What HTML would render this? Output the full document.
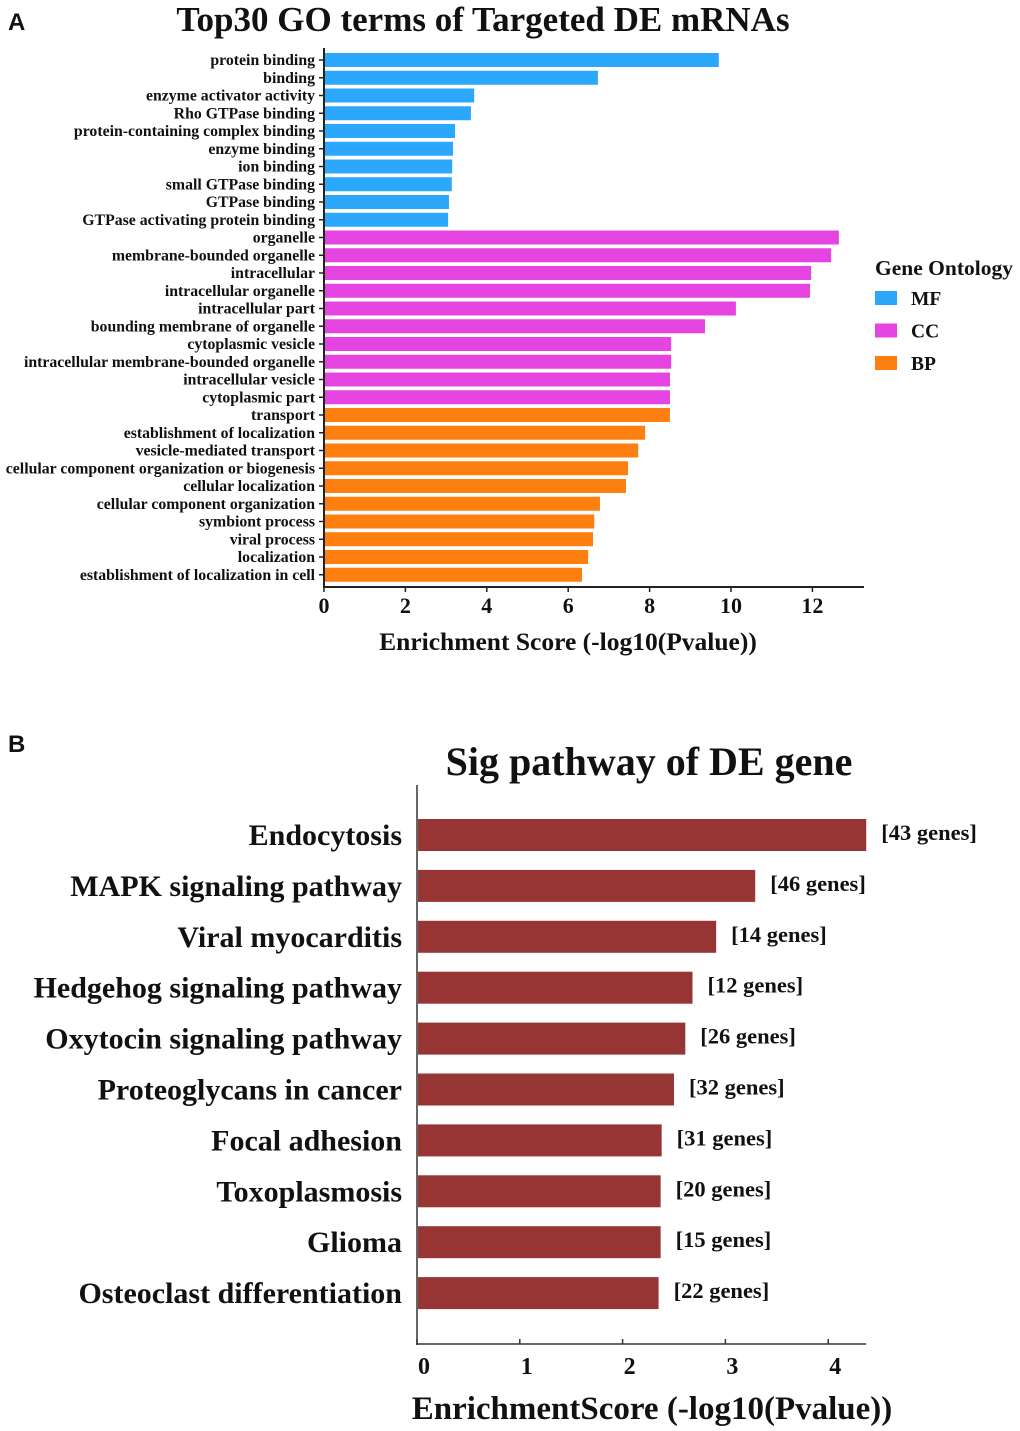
<!DOCTYPE html>
<html><head><meta charset="utf-8"><style>
body{margin:0;background:#fff}
svg{display:block}
text{font-family:"Liberation Serif",serif;font-weight:bold;fill:#111}
</style></head><body>
<svg id="chart" width="1020" height="1431" xmlns="http://www.w3.org/2000/svg">
<text x="8" y="30" style="font-family:'Liberation Sans',sans-serif" font-size="24">A</text>
<text x="483" y="31" font-size="35" text-anchor="middle">Top30 GO terms of Targeted DE mRNAs</text>
<text x="568" y="650" font-size="25.5" text-anchor="middle">Enrichment Score (-log10(Pvalue))</text>
<g>
<text x="875" y="275" font-size="21.5">Gene Ontology</text>
</g>
<text x="8" y="752" style="font-family:'Liberation Sans',sans-serif" font-size="24">B</text>
<text x="649" y="775" font-size="40" text-anchor="middle">Sig pathway of DE gene</text>
<text x="652" y="1419" font-size="33" text-anchor="middle">EnrichmentScore (-log10(Pvalue))</text>
<g id="ga"></g><g id="gb"></g>
</svg>
<script>
const goTerms=["protein binding","binding","enzyme activator activity","Rho GTPase binding","protein-containing complex binding","enzyme binding","ion binding","small GTPase binding","GTPase binding","GTPase activating protein binding","organelle","membrane-bounded organelle","intracellular","intracellular organelle","intracellular part","bounding membrane of organelle","cytoplasmic vesicle","intracellular membrane-bounded organelle","intracellular vesicle","cytoplasmic part","transport","establishment of localization","vesicle-mediated transport","cellular component organization or biogenesis","cellular localization","cellular component organization","symbiont process","viral process","localization","establishment of localization in cell"];
const goScores=[9.7,6.73,3.69,3.61,3.22,3.17,3.15,3.14,3.07,3.05,12.65,12.46,11.97,11.94,10.12,9.36,8.53,8.53,8.5,8.5,8.5,7.89,7.72,7.47,7.42,6.78,6.64,6.61,6.49,6.34];
const goCats=["MF","MF","MF","MF","MF","MF","MF","MF","MF","MF","CC","CC","CC","CC","CC","CC","CC","CC","CC","CC","BP","BP","BP","BP","BP","BP","BP","BP","BP","BP"];
const catNames=["MF","CC","BP"];
const aTicks=[0,2,4,6,8,10,12];
const pathways=["Endocytosis","MAPK signaling pathway","Viral myocarditis","Hedgehog signaling pathway","Oxytocin signaling pathway","Proteoglycans in cancer","Focal adhesion","Toxoplasmosis","Glioma","Osteoclast differentiation"];
const pathScores=[4.37,3.29,2.91,2.68,2.61,2.5,2.38,2.37,2.37,2.35];
const geneCounts=[43,46,14,12,26,32,31,20,15,22];
const bTicks=[0,1,2,3,4];
const colors={MF:"#2ba8fb",CC:"#e544e0",BP:"#fd7f0f"};
const NS="http://www.w3.org/2000/svg";
function mk(p,t,a){const e=document.createElementNS(NS,t);for(const k in a)e.setAttribute(k,a[k]);p.appendChild(e);return e;}
const ga=document.getElementById('ga');
const ax=v=>324+v*40.7, ay=i=>53+i*17.75;
goTerms.forEach((t,i)=>{
 const r=mk(ga,'rect',{x:ax(0)+1,y:ay(i),width:ax(goScores[i])-ax(0)-1,height:14,fill:colors[goCats[i]]});
 
 
 const tk=mk(ga,'line',{x1:319,x2:324,y1:ay(i)+7,y2:ay(i)+7,stroke:'#222','stroke-width':1.5});
 
 
 const tx=mk(ga,'text',{x:315,y:ay(i)+12,'font-size':15.8,'text-anchor':'end'});tx.textContent=t;
 
 
});
let l=mk(ga,'line',{x1:324,x2:324,y1:48,y2:588,stroke:'#222','stroke-width':2});


l=mk(ga,'line',{x1:323,x2:864,y1:587,y2:587,stroke:'#222','stroke-width':2});


aTicks.forEach(v=>{
 const t=mk(ga,'line',{x1:ax(v),x2:ax(v),y1:587,y2:592,stroke:'#222','stroke-width':1.5});
 
 
 const tx=mk(ga,'text',{x:ax(v),y:613,'font-size':22,'text-anchor':'middle'});tx.textContent=v;
 
 
});
catNames.forEach((c,i)=>{
 const r=mk(ga,'rect',{x:875,y:291+i*32.5,width:22,height:14,fill:colors[c]});
 
 
 const tx=mk(ga,'text',{x:911,y:305+i*32.5,'font-size':19.5});tx.textContent=c;
 
 
});
const gb=document.getElementById('gb');
const bx=v=>417+v*102.8, by=i=>835+i*50.9;
pathways.forEach((p,i)=>{
 const r=mk(gb,'rect',{x:bx(0)+1,y:by(i)-16,width:bx(pathScores[i])-bx(0)-1,height:32,fill:'#973434'});
 
 
 const tx=mk(gb,'text',{x:402,y:by(i)+10,'font-size':30,'text-anchor':'end'});tx.textContent=p;
 
 
 const g=mk(gb,'text',{x:bx(pathScores[i])+15,y:by(i)+5,'font-size':22.5});g.textContent='['+geneCounts[i]+' genes]';
 
 
});
l=mk(gb,'line',{x1:417,x2:417,y1:785,y2:1345,stroke:'#333','stroke-width':1.5});


l=mk(gb,'line',{x1:416,x2:866,y1:1344,y2:1344,stroke:'#333','stroke-width':1.5});


bTicks.forEach(v=>{
 const t=mk(gb,'line',{x1:bx(v),x2:bx(v),y1:1339,y2:1344,stroke:'#333','stroke-width':1.5});
 
 
 const tx=mk(gb,'text',{x:bx(v)+7,y:1374,'font-size':24,'text-anchor':'middle'});tx.textContent=v;
 
 
});
</script>
</body></html>
